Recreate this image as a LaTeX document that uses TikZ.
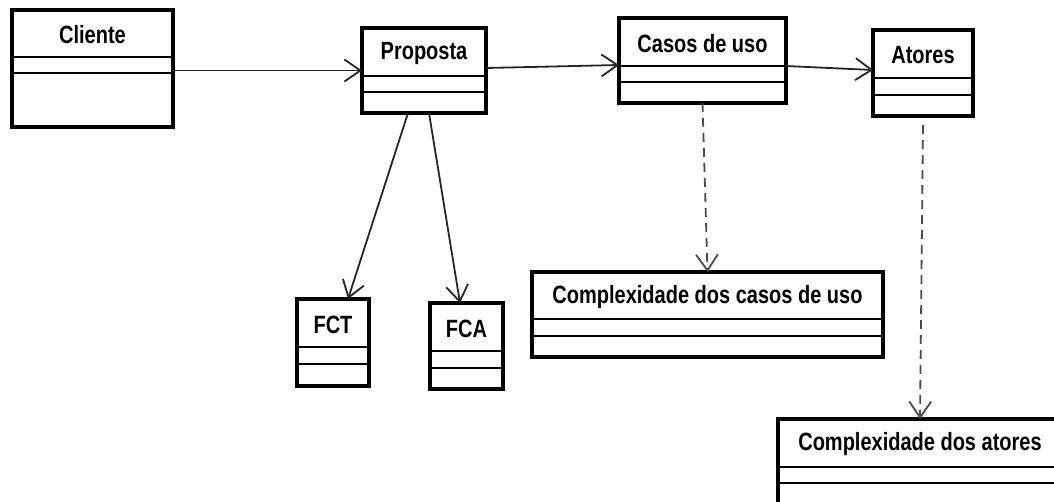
\documentclass[tikz,border=0pt]{standalone}
\usepackage{fontspec}
\newfontfamily\umlfont{Liberation Sans}[FakeStretch=0.8]
\usetikzlibrary{arrows.meta,calc}

\tikzset{
  classframe/.style={draw=black, line width=3.2pt, inner sep=0pt, outer sep=0pt,
    anchor=north west, fill=white},
  classtitle/.style={font=\umlfont\bfseries\fontsize{25pt}{29pt}\selectfont,
    inner sep=0pt, text=black, yshift=-1.5pt},
  divider/.style={draw=black, line width=2.2pt},
  assoc/.style={draw=black!85, line width=1.8pt,
    -{Straight Barb[length=16pt,width=22pt,line width=1.8pt]}},
  depend/.style={assoc, draw=black!70, dash pattern=on 9pt off 6pt},
}

% UML class box: name, left, top, right, bottom, first divider, second divider, title
\newcommand{\umlclass}[8]{%
  \node[classframe, minimum width={#4pt-#2pt}, minimum height={#5pt-#3pt}] (#1) at (#2,#3) {};
  \node[classtitle] (#1-name) at ({(#2+#4)/2},{(#3+#6)/2}) {#8};
  \draw[divider] (#2,#6) -- (#4,#6);
  \draw[divider] (#2,#7) -- (#4,#7);
}

\begin{document}
\begin{tikzpicture}[x=1pt, y=-1pt]
  \useasboundingbox (0,0) rectangle (1054,501);
  \clip (0,0) rectangle (1054,501);
  \fill[white] (0,0) rectangle (1054,501);

  \umlclass{cli}{12}{10}{173}{127}{57}{73}{Cliente}
  \umlclass{prop}{362}{28}{486}{113}{76}{92}{Proposta}
  \umlclass{casos}{619}{18}{786}{103}{66}{82}{Casos de uso}
  \umlclass{atores}{873}{30}{973}{116}{78}{95}{Atores}
  \umlclass{fct}{297}{299}{369}{386}{347}{364}{FCT}
  \umlclass{fca}{430}{303}{503}{389}{351}{368}{FCA}
  \umlclass{cxcasos}{532}{272}{883}{357}{319}{336}{Complexidade dos casos de uso}
  \umlclass{cxatores}{778}{419}{1062}{504}{467}{483}{Complexidade dos atores}

  % associations
  \draw[assoc] (cli.east |- prop.west) -- (prop.west);
  \draw[assoc] ($(prop.east)+(0,-2.5)$) -- ($(casos.west)+(0,4.5)$);
  \draw[assoc] ($(casos.east)+(0,5.5)$) -- ($(atores.west)+(0,-3)$);
  \draw[assoc] ($(prop.south)+(-16,0)$) -- ($(fct.north)+(15,0)$);
  \draw[assoc] ($(prop.south)+(5,0)$) -- ($(fca.north)+(-6.5,0)$);

  % dependencies
  \draw[depend] (casos.south) -- (cxcasos.north);
  \draw[depend] ($(atores.south)+(0,9)$) -- (cxatores.north);
\end{tikzpicture}
\end{document}
